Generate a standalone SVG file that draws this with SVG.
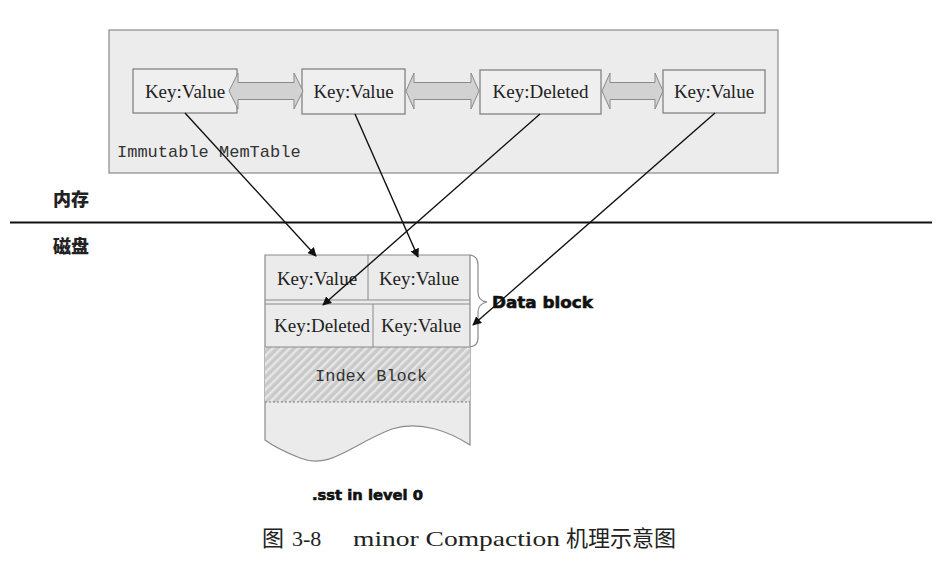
<svg xmlns="http://www.w3.org/2000/svg" width="941" height="578" viewBox="0 0 941 578">
<defs>
<style>
.kv{font-family:"Liberation Serif","Times New Roman",serif;font-size:19px;fill:#222;text-anchor:middle}
.mono{font-family:"Liberation Mono","DejaVu Sans Mono",monospace;font-size:17px;fill:#333}
.box{fill:#efefef;stroke:#7a7a7a;stroke-width:1.2}
.dbl{fill:#d2d2d2;stroke:#8a8a8a;stroke-width:1}
.con{stroke:#111;stroke-width:1.4;fill:none;marker-end:url(#ah)}
.heavy{font-family:"DejaVu Sans",sans-serif;font-weight:bold;fill:#111;stroke:#111;stroke-width:0.6}
.cjkb{font-family:"Noto Sans CJK SC",sans-serif;font-weight:900;font-size:18px;fill:#222}
</style>
<marker id="ah" viewBox="0 0 10 10" refX="9" refY="5" markerWidth="9" markerHeight="9" markerUnits="userSpaceOnUse" orient="auto">
<path d="M0,0 L10,5 L0,10 Z" fill="#111"/>
</marker>
<pattern id="hatch" width="6" height="6" patternUnits="userSpaceOnUse" patternTransform="rotate(-45)">
<rect width="6" height="6" fill="#c9c9c9"/>
<rect width="6" height="2.5" fill="#e6e6e6"/>
</pattern>
</defs>
<rect width="941" height="578" fill="#ffffff"/>

<g id="memtable">
<rect x="109" y="30" width="669" height="143" fill="#ececec" stroke="#8a8a8a" stroke-width="1.2"/>
<text class="mono" x="117" y="157">Immutable MemTable</text>
</g>

<g id="node-kv1">
<rect class="box" x="133" y="69" width="104" height="44"/>
<text class="kv" x="185" y="98">Key:Value</text>
</g>
<g id="node-kv2">
<rect class="box" x="302" y="69" width="103" height="45"/>
<text class="kv" x="353.5" y="98">Key:Value</text>
</g>
<g id="node-del">
<rect class="box" x="480" y="70" width="121" height="44"/>
<text class="kv" x="540.5" y="98">Key:Deleted</text>
</g>
<g id="node-kv4">
<rect class="box" x="663" y="70" width="102" height="43"/>
<text class="kv" x="714" y="98">Key:Value</text>
</g>

<g id="arrows-double">
<path class="dbl" d="M229,91 L238,73 L238,82.5 L294,82.5 L294,73 L303,91 L294,109 L294,99.5 L238,99.5 L238,109 Z"/>
<path class="dbl" d="M406,91 L414,73 L414,82.5 L471,82.5 L471,73 L479,91 L471,109 L471,99.5 L414,99.5 L414,109 Z"/>
<path class="dbl" d="M602,91 L610,73 L610,82.5 L655,82.5 L655,73 L663,91 L655,109 L655,99.5 L610,99.5 L610,109 Z"/>
</g>

<g id="divider">
<line x1="10" y1="222.5" x2="932" y2="222.5" stroke="#111" stroke-width="2"/>
<text class="cjkb" x="53" y="206">内存</text>
<text class="cjkb" x="53" y="253">磁盘</text>
</g>

<g id="sst">
<path d="M265,255 L470,255 L470,445 C450,432 420,420 392,429 C350,445 330,470 300,458 C285,452 273,446 265,440 Z" fill="#ebebeb" stroke="#8a8a8a" stroke-width="1.2"/>
<rect x="265" y="347" width="205" height="55" fill="url(#hatch)"/>
<line x1="265" y1="402" x2="470" y2="402" stroke="#777" stroke-width="1" stroke-dasharray="2,2"/>
<line x1="265" y1="347" x2="470" y2="347" stroke="#8a8a8a" stroke-width="1"/>
<line x1="265" y1="300" x2="470" y2="300" stroke="#8a8a8a" stroke-width="1"/>
<line x1="265" y1="304" x2="470" y2="304" stroke="#8a8a8a" stroke-width="1"/>
<line x1="368" y1="255" x2="368" y2="300" stroke="#8a8a8a" stroke-width="1"/>
<line x1="373" y1="304" x2="373" y2="347" stroke="#8a8a8a" stroke-width="1"/>
<text class="kv" x="317" y="285">Key:Value</text>
<text class="kv" x="419" y="285">Key:Value</text>
<text class="kv" x="322" y="332">Key:Deleted</text>
<text class="kv" x="421" y="332">Key:Value</text>
<text class="mono" x="315" y="381">Index Block</text>
<path d="M470,255 Q478,256 478,265 L478,292 Q478,301 487,302 Q478,304 478,312 L478,338 Q478,346 470,347" fill="none" stroke="#8a8a8a" stroke-width="1.2"/>
<text class="heavy" x="492" y="308" font-size="16.5" textLength="101" lengthAdjust="spacingAndGlyphs">Data block</text>
<text class="heavy" x="312" y="500" font-size="14" textLength="111" lengthAdjust="spacingAndGlyphs">.sst in level 0</text>
</g>

<g id="connectors">
<line class="con" x1="185" y1="113" x2="316" y2="256"/>
<line class="con" x1="355" y1="114" x2="418" y2="257"/>
<line class="con" x1="540" y1="114" x2="323" y2="305"/>
<line class="con" x1="715" y1="113" x2="473" y2="325"/>
</g>

<g id="caption">
<text font-family="'Liberation Serif','Noto Sans CJK SC',serif" font-size="22" fill="#222" y="546"><tspan x="262">图</tspan><tspan x="292">3-8</tspan><tspan x="353" textLength="207" lengthAdjust="spacingAndGlyphs">minor Compaction</tspan><tspan x="566">机理示意图</tspan></text>
</g>
</svg>
